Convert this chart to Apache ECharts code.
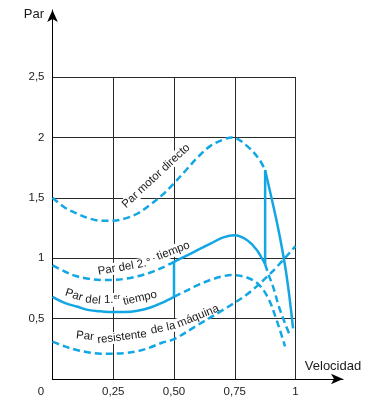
<!DOCTYPE html>
<html><head><meta charset="utf-8">
<script src="https://cdn.jsdelivr.net/npm/echarts@6/dist/echarts.min.js"></script>
<style>html,body{margin:0;padding:0;background:#fff}#c{width:373px;height:400px}</style>
</head><body><div id="c"></div>
<script>
// ---- tick labels ----
const xTicks = [0, 0.25, 0.5, 0.75, 1];
const xTickLabels = ['0', '0,25', '0,50', '0,75', '1'];
const yTicks = [0, 0.5, 1, 1.5, 2, 2.5];
const yTickLabels = ['', '0,5', '1', '1,5', '2', '2,5'];

// ---- Par motor directo (dashed up to the switch, then solid) ----
const motorX = [0, 0.05, 0.1, 0.15, 0.2, 0.25, 0.3, 0.35, 0.4, 0.45, 0.5, 0.55, 0.6, 0.65, 0.7, 0.74, 0.8, 0.85, 0.875];
const motorY = [1.50, 1.42, 1.37, 1.33, 1.31, 1.31, 1.33, 1.37, 1.44, 1.52, 1.62, 1.73, 1.84, 1.93, 1.98, 2.00, 1.93, 1.82, 1.73];
const motorTailX = [0.875, 0.9, 0.92, 0.94, 0.96, 0.975, 0.99];
const motorTailY = [1.73, 1.51, 1.33, 1.13, 0.90, 0.68, 0.42];

// ---- Par del 2.º tiempo ----
const segX = [0, 0.05, 0.1, 0.15, 0.2, 0.25, 0.3, 0.35, 0.4, 0.45, 0.5];
const segY = [0.94, 0.89, 0.85, 0.83, 0.82, 0.82, 0.83, 0.85, 0.88, 0.92, 0.97];
const segSolidX = [0.5, 0.55, 0.6, 0.65, 0.7, 0.75, 0.8, 0.84, 0.875];
const segSolidY = [0.97, 1.02, 1.07, 1.12, 1.17, 1.19, 1.15, 1.07, 0.95];
const segTailX = [0.875, 0.89, 0.91, 0.93, 0.955, 0.977];
const segTailY = [0.95, 0.86, 0.75, 0.61, 0.47, 0.36];

// ---- Par del 1.er tiempo ----
const priX = [0, 0.05, 0.1, 0.15, 0.2, 0.25, 0.3, 0.35, 0.4, 0.45, 0.5];
const priY = [0.68, 0.63, 0.60, 0.57, 0.56, 0.555, 0.555, 0.565, 0.59, 0.63, 0.68];
const priTailX = [0.5, 0.55, 0.6, 0.65, 0.7, 0.74, 0.8, 0.85, 0.89, 0.92, 0.94, 0.957];
const priTailY = [0.68, 0.73, 0.78, 0.82, 0.85, 0.86, 0.84, 0.78, 0.66, 0.50, 0.38, 0.27];

// ---- Par resistente de la máquina ----
const resX = [0, 0.05, 0.1, 0.15, 0.2, 0.25, 0.3, 0.35, 0.4, 0.45, 0.5, 0.6, 0.7, 0.8, 0.9, 1.0];
const resY = [0.31, 0.27, 0.24, 0.22, 0.21, 0.21, 0.215, 0.23, 0.26, 0.30, 0.33, 0.45, 0.57, 0.70, 0.88, 1.10];

const BLUE = '#12a6e4';
const FONT = '"Liberation Sans", Arial, sans-serif';
const zip = (xs, ys) => xs.map((x, i) => [x, ys[i]]);
const last = a => a[a.length - 1];

const chart = echarts.init(document.getElementById('c'), null, {renderer: 'canvas'});

function lineSeries(data, dashed, smooth) {
  return {
    type: 'line', xAxisIndex: 0, yAxisIndex: 0, data: data,
    smooth: smooth ? 0.35 : false, symbol: 'none', silent: true, z: 3,
    lineStyle: {color: BLUE, width: 2.5, type: dashed ? [7, 4] : 'solid', cap: 'butt'}
  };
}

const series = [
  lineSeries(zip(motorX, motorY), true, true),
  lineSeries(zip(motorTailX, motorTailY), false, true),
  lineSeries(zip(segX, segY), true, true),
  lineSeries(zip(segSolidX, segSolidY), false, true),
  lineSeries(zip(segTailX, segTailY), true, true),
  lineSeries(zip(priX, priY), false, true),
  lineSeries(zip(priTailX, priTailY), true, true),
  lineSeries(zip(resX, resY), true, true),
  // switching jumps
  lineSeries([[last(priX), last(priY)], [segSolidX[0], segSolidY[0]]], false, false),
  lineSeries([[last(segSolidX), last(segSolidY)], [motorTailX[0], motorTailY[0]]], false, false)
];

const gridColor = '#2a2a2a';
chart.setOption({
  animation: false,
  backgroundColor: '#fff',
  grid: [
    {left: 52.5, right: 77.5, top: 77, bottom: 21},
    {left: 52.5, right: 30, top: 10, bottom: 21}
  ],
  xAxis: [
    {type: 'value', gridIndex: 0, min: 0, max: 1, interval: 0.25,
     axisLine: {show: false}, axisTick: {show: false},
     splitLine: {show: true, lineStyle: {color: gridColor, width: 1}},
     axisLabel: {margin: 7, fontSize: 11.5, fontFamily: FONT, color: '#222',
       formatter: v => {
         const i = xTicks.findIndex(t => Math.abs(t - v) < 1e-9);
         const s = i >= 0 ? xTickLabels[i] : '';
         return i === 0 ? '{o|' + s + '}' : s;
       },
       rich: {o: {fontSize: 11.5, fontFamily: FONT, color: '#222', padding: [0, 23, 0, 0]}}
     }},
    {type: 'value', gridIndex: 1, min: 0, max: 1.2,
     axisLine: {show: true, symbol: ['none', 'arrow'], symbolSize: [8, 12], lineStyle: {color: '#000', width: 1}},
     axisTick: {show: false}, axisLabel: {show: false}, splitLine: {show: false}}
  ],
  yAxis: [
    {type: 'value', gridIndex: 0, min: 0, max: 2.5, interval: 0.5,
     axisLine: {show: false}, axisTick: {show: false},
     splitLine: {show: true, lineStyle: {color: gridColor, width: 1}},
     axisLabel: {margin: 8, fontSize: 11.5, fontFamily: FONT, color: '#222',
       formatter: v => {
         const i = yTicks.findIndex(t => Math.abs(t - v) < 1e-9);
         return i >= 0 ? yTickLabels[i] : '';
       }}},
    {type: 'value', gridIndex: 1, min: 0, max: 3.05,
     axisLine: {show: true, symbol: ['none', 'arrow'], symbolSize: [8, 12], lineStyle: {color: '#000', width: 1}},
     axisTick: {show: false}, axisLabel: {show: false}, splitLine: {show: false}}
  ],
  series: series
});

// curve labels anchored in data coordinates
const curveLabels = [
  {text: 'Par motor directo', at: [0.426, 1.68], rot: 43},
  {text: 'Par del 2.°', at: [0.296, 0.927], rot: 10},
  {text: 'tiempo', at: [0.497, 1.06], rot: 21},
  {text: 'Par', at: [0.088, 0.695], rot: -18},
  {text: 'del', at: [0.167, 0.654], rot: -6},
  {text: '1.{s|er}', at: [0.245, 0.654], rot: 0},
  {text: 'tiempo', at: [0.36, 0.67], rot: 13},
  {text: 'Par', at: [0.134, 0.356], rot: -6},
  {text: 'resistente', at: [0.286, 0.348], rot: 7},
  {text: 'de la', at: [0.455, 0.422], rot: 12},
  {text: 'máquina', at: [0.599, 0.52], rot: 22}
];

const graphics = curveLabels.map(l => {
  const p = chart.convertToPixel({xAxisIndex: 0, yAxisIndex: 0}, l.at);
  return {
    type: 'text', x: p[0], y: p[1], rotation: l.rot * Math.PI / 180, z: 1,
    style: {
      text: l.text, fill: '#1a1a1a', font: '11.5px ' + FONT,
      align: 'center', verticalAlign: 'middle',
      backgroundColor: '#fff', padding: [0, 3],
      rich: {s: {fontSize: 7.5, fontFamily: FONT, fill: '#1a1a1a', verticalAlign: 'top', padding: [0, 0, 6, 0]}}
    }
  };
});
graphics.push({type: 'text', x: 44, y: 14, z: 1,
  style: {text: 'Par', fill: '#1a1a1a', font: '13px ' + FONT, align: 'right', verticalAlign: 'middle'}});
graphics.push({type: 'text', x: 333, y: 366, z: 1,
  style: {text: 'Velocidad', fill: '#1a1a1a', font: '13px ' + FONT, align: 'center', verticalAlign: 'middle'}});

chart.setOption({graphic: graphics});
</script>
</body></html>
